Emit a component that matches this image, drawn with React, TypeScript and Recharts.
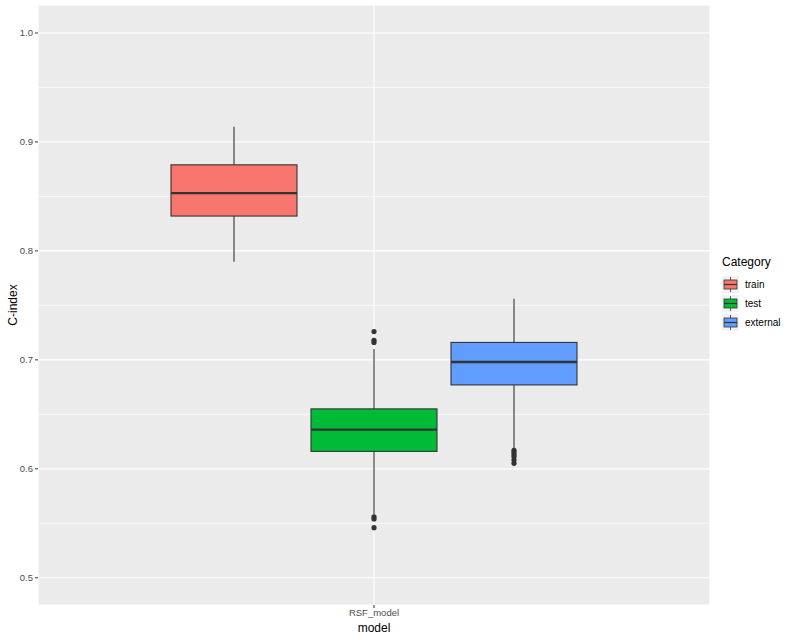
import React from 'react';
import {
  ComposedChart,
  Bar,
  Scatter,
  Cell,
  XAxis,
  YAxis,
  CartesianGrid,
} from 'recharts';

const categories = ['train', 'test', 'external'];
const colors = ['#F8766D', '#00BA38', '#619CFF'];
const whiskerLow = [0.79, 0.558, 0.619];
const q1 = [0.832, 0.616, 0.677];
const median = [0.853, 0.636, 0.698];
const q3 = [0.879, 0.655, 0.716];
const whiskerHigh = [0.914, 0.71, 0.756];
const trainOutliers: number[] = [];
const testOutliers = [0.726, 0.718, 0.716, 0.556, 0.554, 0.546];
const externalOutliers = [0.617, 0.615, 0.613, 0.611, 0.608, 0.605];
const yTicks = [0.5, 0.6, 0.7, 0.8, 0.9, 1.0];
const yMinor = [0.55, 0.65, 0.75, 0.85, 0.95];
const modelLabel = 'RSF_model';

// ggplot dodge: 3 boxes inside 0.75 of the category slot
const slot = 0.25;
const xOf = (i: number) => 1 + (i - 1) * slot;

const boxes = categories.map((name, i) => ({
  name,
  x: xOf(i),
  range: [whiskerLow[i], whiskerHigh[i]],
  lo: whiskerLow[i],
  q1: q1[i],
  med: median[i],
  q3: q3[i],
  hi: whiskerHigh[i],
}));

const outlierSets = [trainOutliers, testOutliers, externalOutliers];
const outliers = outlierSets.flatMap((vals, i) => vals.map((y) => ({ x: xOf(i), y })));

const BoxShape = (props: any) => {
  const { x, y, width, height, payload, fill } = props;
  const top = Math.min(y, y + height);
  const h = Math.abs(height);
  const span = payload.hi - payload.lo;
  const py = (v: number) => top + ((payload.hi - v) / span) * h;
  const cx = x + width / 2;
  const bw = width;
  const bx = cx - bw / 2;
  return (
    <g>
      <line x1={cx} x2={cx} y1={py(payload.hi)} y2={py(payload.q3)} stroke="#333" strokeWidth={1.1} />
      <line x1={cx} x2={cx} y1={py(payload.q1)} y2={py(payload.lo)} stroke="#333" strokeWidth={1.1} />
      <rect x={bx} y={py(payload.q3)} width={bw} height={py(payload.q1) - py(payload.q3)} fill={fill} stroke="#333" strokeWidth={1.1} />
      <line x1={bx} x2={bx + bw} y1={py(payload.med)} y2={py(payload.med)} stroke="#333" strokeWidth={2.4} />
    </g>
  );
};

const LegendKey = ({ color }: { color: string }) => (
  <svg width={17} height={17} style={{ display: 'block' }}>
    <rect x={0} y={0} width={17} height={17} fill="#F2F2F2" />
    <line x1={8.5} x2={8.5} y1={1} y2={16} stroke="#333" strokeWidth={0.8} />
    <rect x={2} y={4} width={13} height={9} fill={color} stroke="#333" strokeWidth={0.8} />
    <line x1={2} x2={15} y1={8.5} y2={8.5} stroke="#333" strokeWidth={1.2} />
  </svg>
);

export default function App() {
  return (
    <div style={{ position: 'absolute', left: 0, top: 0, width: 800, height: 640, background: '#fff', fontFamily: '"Liberation Sans", Arial, sans-serif' }}>
      <ComposedChart width={800} height={640} data={boxes} margin={{ top: 5, right: 90, bottom: 0, left: 0 }}>
        <CartesianGrid fill="#EBEBEB" stroke="#fff" strokeWidth={1.2} horizontal vertical />
        <CartesianGrid stroke="#fff" strokeWidth={0.6} vertical={false} horizontalValues={yMinor} />
        <XAxis
          dataKey="x"
          type="number"
          domain={[0.4, 1.6]}
          ticks={[1]}
          tickFormatter={() => modelLabel}
          axisLine={false}
          tickLine={{ stroke: '#333' }}
          tickSize={3}
          tickMargin={1}
          height={35}
          tick={{ fontSize: 9.5, fill: '#4D4D4D' }}
          label={{ value: 'model', position: 'insideBottom', offset: 8, fontSize: 12, fill: '#000' }}
        />
        <YAxis
          type="number"
          domain={[0.475, 1.0257]}
          ticks={yTicks}
          tickFormatter={(v: number) => v.toFixed(1)}
          axisLine={false}
          tickLine={{ stroke: '#333' }}
          tickSize={3}
          tickMargin={2}
          width={38}
          allowDataOverflow
          tick={{ fontSize: 9.5, fill: '#4D4D4D' }}
          label={(p: any) => {
            const vb = p.viewBox || { x: 0, y: 5, height: 600 };
            const cy = vb.y + vb.height / 2;
            return (
              <text x={13} y={cy} transform={`rotate(-90 13 ${cy})`} textAnchor="middle" dominantBaseline="central" fontSize={12} fill="#000">
                C-index
              </text>
            );
          }}
        />
        <Bar dataKey="range" barSize={126} shape={<BoxShape />} isAnimationActive={false}>
          {boxes.map((b, i) => (
            <Cell key={b.name} fill={colors[i]} />
          ))}
        </Bar>
        <Scatter data={outliers} dataKey="y" fill="#333" isAnimationActive={false} shape={(p: any) => <circle cx={p.cx} cy={p.cy} r={2.6} fill="#333" />} />
      </ComposedChart>
      <div style={{ position: 'absolute', left: 722, top: 255, fontSize: 12, color: '#000' }}>
        <div style={{ marginBottom: 6 }}>Category</div>
        {categories.map((c, i) => (
          <div key={c} style={{ display: 'flex', alignItems: 'center', height: 19 }}>
            <LegendKey color={colors[i]} />
            <span style={{ marginLeft: 6, fontSize: 10 }}>{c}</span>
          </div>
        ))}
      </div>
    </div>
  );
}
